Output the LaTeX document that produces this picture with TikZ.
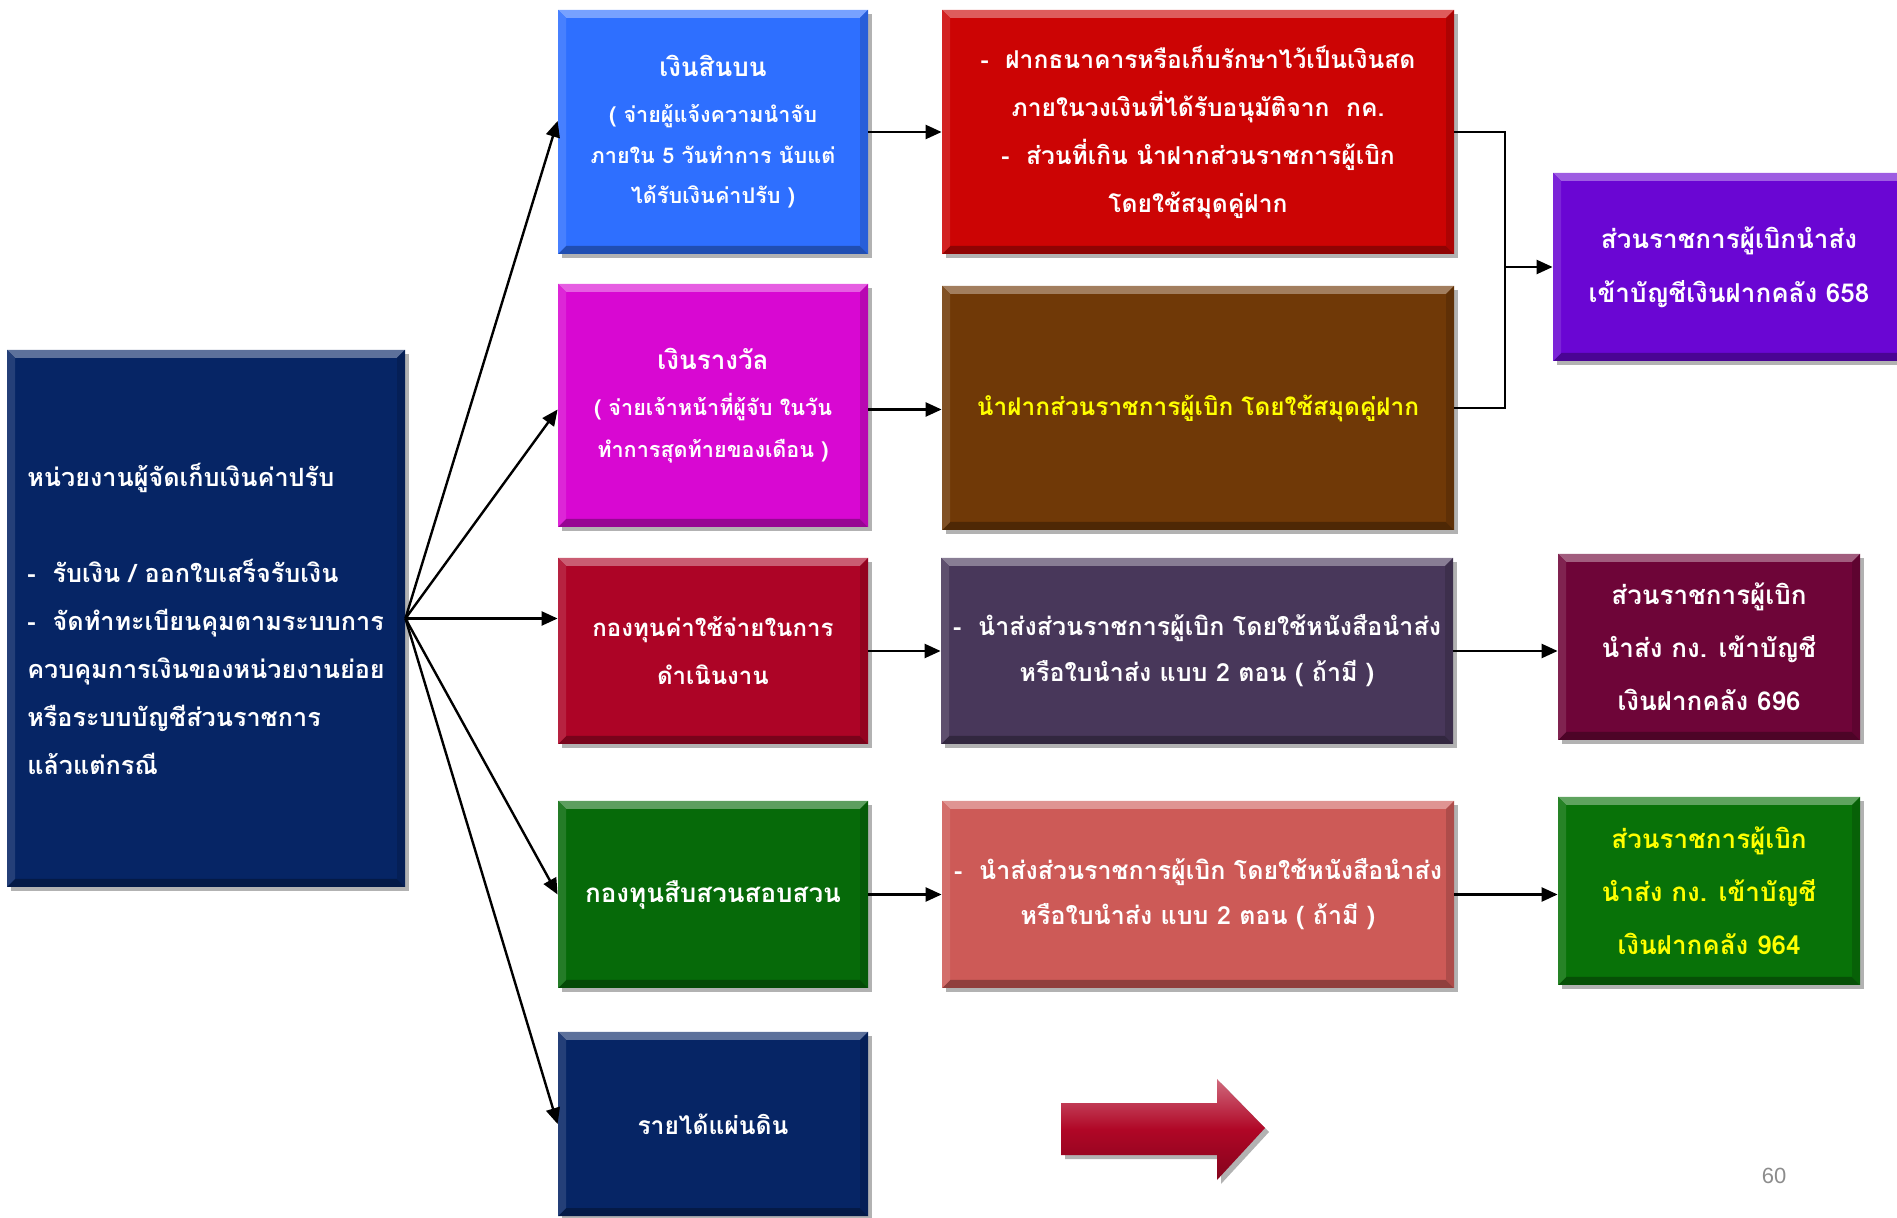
\documentclass[tikz,border=0pt]{standalone}
\usepackage{fontspec}
\newfontfamily\thaifont[Script=Thai]{Loma}
\newfontfamily\numfont{Liberation Sans}
\usetikzlibrary{arrows.meta,shadows,calc}
\definecolor{cNavy}{RGB}{6,37,101}
\definecolor{cBlue}{RGB}{46,111,255}
\definecolor{cMag}{RGB}{216,8,210}
\definecolor{cRed}{RGB}{204,4,4}
\definecolor{cBrown}{RGB}{112,57,7}
\definecolor{cCrim}{RGB}{173,4,38}
\definecolor{cPurp}{RGB}{72,55,90}
\definecolor{cGreen}{RGB}{6,106,9}
\definecolor{cSalm}{RGB}{205,90,87}
\definecolor{cViol}{RGB}{106,6,211}
\definecolor{cMaroon}{RGB}{110,5,56}
\definecolor{cGreenB}{RGB}{8,114,8}
\definecolor{cArrow}{RGB}{176,6,38}
\definecolor{cYel}{RGB}{255,255,0}
\newcommand{\thfs}[2]{\thaifont\bfseries\fontsize{#1}{#2}\selectfont\lineskiplimit=-30pt\lineskip=0pt\relax}
\tikzset{
  box/.style={draw=none, fill=#1, inner sep=0pt, align=center, text=white,
    font=\thfs{12}{24},
    drop shadow={shadow xshift=2pt, shadow yshift=-2pt, opacity=0.3, fill=black},
    path picture={
      \path (path picture bounding box.north west) coordinate (pnw)
            (path picture bounding box.south east) coordinate (pse);
      \fill[#1!65!white] (pnw) -- (pnw-|pse) -- ($(pnw-|pse)+(-4pt,-4pt)$) -- ($(pnw)+(4pt,-4pt)$) -- cycle;
      \fill[#1!70!black] (pse-|pnw) -- (pse) -- ($(pse)+(-4pt,4pt)$) -- ($(pse-|pnw)+(4pt,4pt)$) -- cycle;
      \fill[#1!88!white] (pnw) -- (pse-|pnw) -- ($(pse-|pnw)+(4pt,4pt)$) -- ($(pnw)+(4pt,-4pt)$) -- cycle;
      \fill[#1!85!black] (pnw-|pse) -- (pse) -- ($(pse)+(-4pt,4pt)$) -- ($(pnw-|pse)+(-4pt,-4pt)$) -- cycle;
    }},
  conn/.style={-{Triangle[length=8pt,width=7pt]}, line width=1.2pt, black},
  plain/.style={line width=1.2pt, black}
}
\begin{document}
\begin{tikzpicture}[x=0.5pt,y=-0.5pt]
\useasboundingbox (0,0) rectangle (1897,1218);
% left box
\node[box=cNavy, minimum width=199pt, minimum height=268.5pt, align=left, font=\thfs{12.6}{24}] (L) at (206,618.5)
 {หน่วยงานผู้จัดเก็บเงินค่าปรับ\\[24pt]
  -\ \ รับเงิน / ออกใบเสร็จรับเงิน\\
  -\ \ จัดทำทะเบียนคุมตามระบบการ\\
  ควบคุมการเงินของหน่วยงานย่อย\\
  หรือระบบบัญชีส่วนราชการ\\
  แล้วแต่กรณี};
% column 2
\node[box=cBlue, minimum width=155pt, minimum height=122pt, font=\thfs{10.8}{20.3}] (B1) at (713,132)
 {{\thfs{13}{20.3}เงินสินบน}\\[2.7pt]
  ( จ่ายผู้แจ้งความนำจับ\\ภายใน 5 วันทำการ นับแต่\\ได้รับเงินค่าปรับ )};
\node[box=cMag, minimum width=155pt, minimum height=121.5pt, font=\thfs{10.8}{20.8}] (B2) at (713,405.5)
 {{\thfs{13}{20.8}เงินรางวัล}\\[2.2pt]
  ( จ่ายเจ้าหน้าที่ผู้จับ ในวัน\\ทำการสุดท้ายของเดือน )};
\node[box=cCrim, minimum width=155pt, minimum height=93pt] (B3) at (713,651)
 {กองทุนค่าใช้จ่ายในการ\\ดำเนินงาน};
\node[box=cGreen, minimum width=155pt, minimum height=93.5pt, font=\thfs{13}{24}] (B4) at (713,894.5)
 {กองทุนสืบสวนสอบสวน};
\node[box=cNavy, minimum width=155pt, minimum height=92pt, font=\thfs{12.3}{24}] (B5) at (713,1124)
 {รายได้แผ่นดิน};
% column 3
\node[box=cRed, minimum width=256pt, minimum height=122pt, font=\thfs{12.3}{24}] (C1) at (1198,132)
 {-\ \ ฝากธนาคารหรือเก็บรักษาไว้เป็นเงินสด\\
  ภายในวงเงินที่ได้รับอนุมัติจาก\ \ กค.\\
  -\ \ ส่วนที่เกิน นำฝากส่วนราชการผู้เบิก\\
  โดยใช้สมุดคู่ฝาก};
\node[box=cBrown, minimum width=256pt, minimum height=122pt, text=cYel, font=\thfs{12.2}{24}] (C2) at (1198,408)
 {นำฝากส่วนราชการผู้เบิก โดยใช้สมุดคู่ฝาก};
\node[box=cPurp, minimum width=256pt, minimum height=93pt, font=\thfs{12.5}{23}] (C3) at (1197,651)
 {-\ \ นำส่งส่วนราชการผู้เบิก โดยใช้หนังสือนำส่ง\\หรือใบนำส่ง แบบ 2 ตอน ( ถ้ามี )};
\node[box=cSalm, minimum width=256pt, minimum height=93.5pt, font=\thfs{12.5}{22.5}] (C4) at (1198,894.5)
 {-\ \ นำส่งส่วนราชการผู้เบิก โดยใช้หนังสือนำส่ง\\หรือใบนำส่ง แบบ 2 ตอน ( ถ้ามี )};
% column 4
\node[box=cViol, minimum width=176pt, minimum height=94pt, font=\thfs{13}{27}] (D1) at (1729,267)
 {ส่วนราชการผู้เบิกนำส่ง\\เข้าบัญชีเงินฝากคลัง 658};
\node[box=cMaroon, minimum width=151pt, minimum height=93pt, font=\thfs{13}{26.5}] (D2) at (1709,647)
 {ส่วนราชการผู้เบิก\\นำส่ง กง. เข้าบัญชี\\เงินฝากคลัง 696};
\node[box=cGreenB, minimum width=151pt, minimum height=94pt, text=cYel, font=\thfs{13}{26.5}] (D3) at (1709,891)
 {ส่วนราชการผู้เบิก\\นำส่ง กง. เข้าบัญชี\\เงินฝากคลัง 964};
% connectors from left box
\draw[conn] (L.east) -- ([yshift=5.5pt]B1.west);
\draw[conn] (L.east) -- ([yshift=-2pt]B2.west);
\draw[conn] (L.east) -- (L.east -| B3.west);
\draw[conn] (L.east) -- (B4.west);
\draw[conn] (L.east) -- (B5.west);
% column 2 -> column 3
\draw[conn] (B1.east) -- (B1.east -| C1.west);
\draw[conn] ([yshift=-2pt]B2.east) -- ([yshift=-2pt]B2.east -| C2.west);
\draw[conn] (B3.east) -- (B3.east -| C3.west);
\draw[conn] (B4.east) -- (B4.east -| C4.west);
% column 3 -> column 4
\coordinate (J) at (1505,267);
\draw[plain] (C1.east) -- (C1.east -| J) -- (C2.east -| J) -- (C2.east);
\draw[conn] (J) -- (J -| D1.west);
\draw[conn] (C3.east) -- (C3.east -| D2.west);
\draw[conn] (C4.east) -- (C4.east -| D3.west);
% big red arrow
\path[drop shadow={shadow xshift=2pt, shadow yshift=-2pt, opacity=0.3, fill=black},
      top color=cArrow!60!white, bottom color=cArrow!75!black, middle color=cArrow]
  (1061,1103) -- (1217,1103) -- (1217,1079) -- (1265,1128) -- (1217,1180) -- (1217,1155) -- (1061,1155) -- cycle;
% page number
\node[text=black!45, font=\numfont\fontsize{11}{13}\selectfont] (pg) at (1774,1176) {60};
\end{tikzpicture}
\end{document}
